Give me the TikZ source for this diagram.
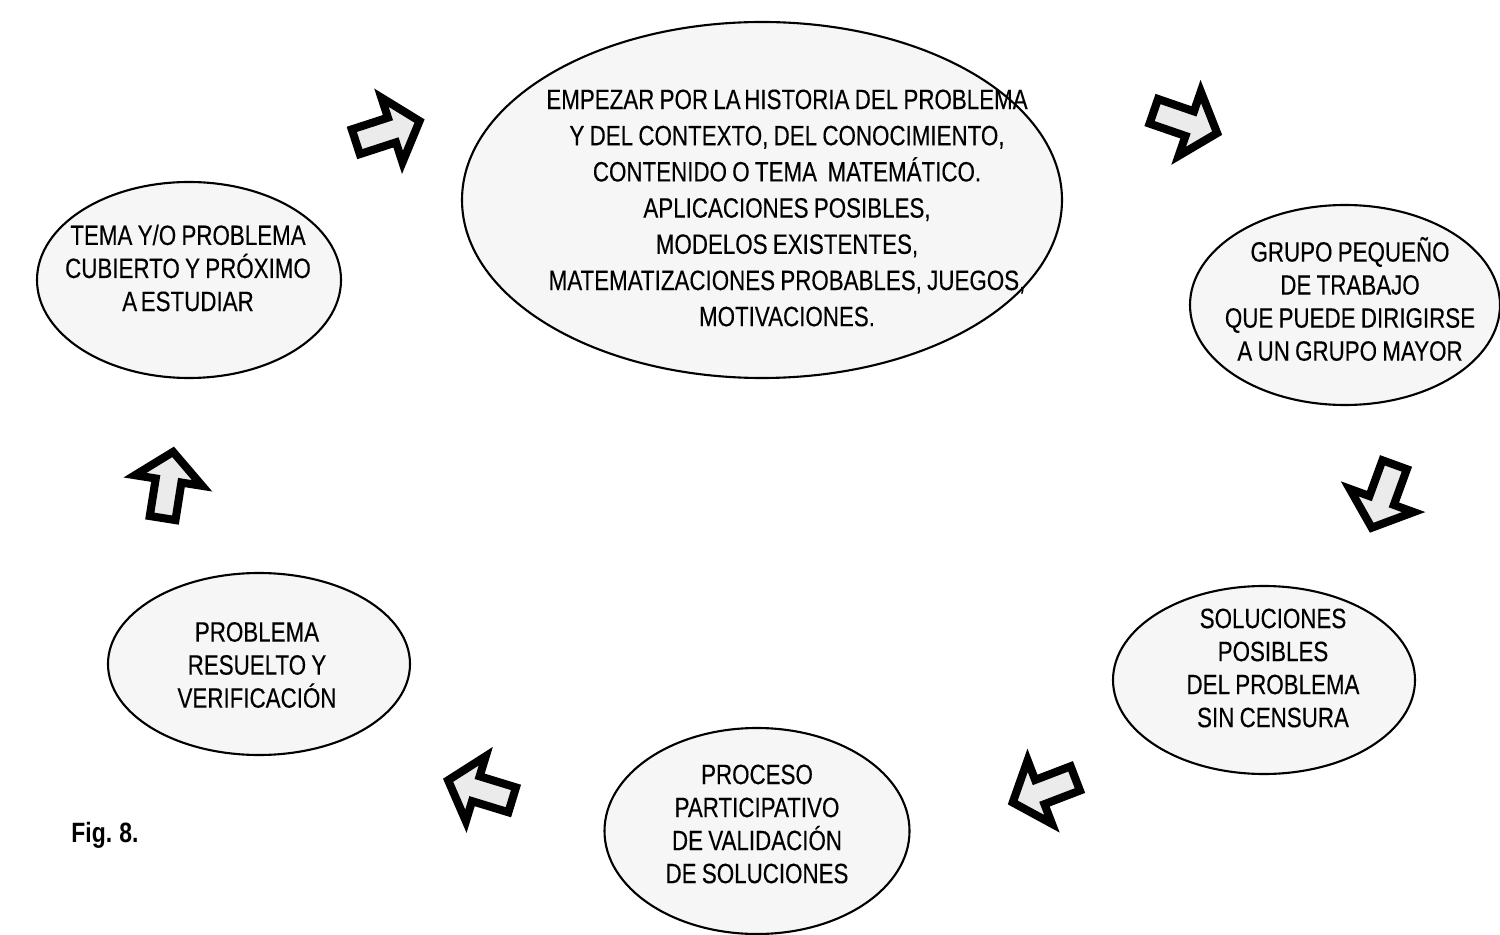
\documentclass[tikz,border=0pt]{standalone}
\usepackage{fontspec}
\setmainfont{Liberation Sans}[FakeStretch=0.80, WordSpace=0.85, FakeBold=0.25]
\newfontfamily\captionfont{Liberation Sans}[FakeStretch=0.82, WordSpace=0.8]
\usetikzlibrary{shapes.geometric}
\begin{document}
\begin{tikzpicture}[x=0.02cm, y=-0.02cm,
  bubble/.style={draw, line width=1.2pt, fill=gray!7, ellipse, inner sep=0pt},
  bubbletext/.style={align=center, inner sep=0pt,
    font={\fontsize{15.9}{18.8}\selectfont}},
  bigtext/.style={align=center, inner sep=0pt,
    font={\fontsize{15.9}{20.6}\selectfont}},
  arrowstyle/.style={draw=black, line width=4.6pt, fill=gray!16, line join=miter},
  blockarrow/.pic={
    \path[arrowstyle] (4,-13) -- (42,-13) -- (42,-34) -- (71,0)
      -- (42,34) -- (42,13) -- (4,13) -- cycle;
  }]
\useasboundingbox (0,0) rectangle (1500,935);

% ellipses of the cycle
\node[bubble, minimum width=600*0.02cm, minimum height=356*0.02cm] (top) at (762,200) {};
\node[bigtext] (toptext) at (787,208) {EMPEZAR POR LA\hspace{-0.06em} HISTORIA DEL PROBLEMA\\
  Y DEL CONTEXTO, DEL CONOCIMIENTO,\\
  CONTENIDO O TEMA \ MATEMÁTICO.\\
  APLICACIONES POSIBLES,\\
  MODELOS EXISTENTES,\\
  MATEMATIZACIONES PROBABLES, JUEGOS,\\
  MOTIVACIONES.};

\node[bubble, minimum width=310*0.02cm, minimum height=200*0.02cm] (grupo) at (1345,305) {};
\node[bubbletext] (grupotext) at (1350,299) {GRUPO PEQUEÑO\\DE TRABAJO\\QUE PUEDE DIRIGIRSE\\A UN GRUPO MAYOR};

\node[bubble, minimum width=302*0.02cm, minimum height=188*0.02cm] (sol) at (1264,680) {};
\node[bubbletext] (soltext) at (1273,668) {SOLUCIONES\\POSIBLES\\DEL PROBLEMA\\SIN CENSURA};

\node[bubble, minimum width=305*0.02cm, minimum height=206*0.02cm] (proc) at (757,831) {};
\node[bubbletext] (proctext) at (757,824) {PROCESO\\PARTICIPATIVO\\DE VALIDACIÓN\\DE SOLUCIONES};

\node[bubble, minimum width=302*0.02cm, minimum height=182*0.02cm] (res) at (259,664) {};
\node[bubbletext] (restext) at (257,665) {PROBLEMA\\RESUELTO Y\\VERIFICACIÓN};

\node[bubble, minimum width=304*0.02cm, minimum height=196*0.02cm] (tema) at (189,280) {};
\node[bubbletext] (tematext) at (188,268) {TEMA Y/O PROBLEMA\\CUBIERTO Y PRÓXIMO\\A\hspace{-0.06em} ESTUDIAR};

% block arrows between the ellipses
\pic[rotate=18]   at (352,143)  {blockarrow};
\pic[rotate=-19]  at (1150,110) {blockarrow};
\pic[rotate=-110] at (1396,461) {blockarrow};
\pic[rotate=-159] at (1079,777) {blockarrow};
\pic[rotate=163]  at (516,801)  {blockarrow};
\pic[rotate=81]   at (162,522)  {blockarrow};

% caption
\node[font={\captionfont\fontsize{15.9}{18.8}\selectfont\bfseries}, inner sep=0pt] (fig) at (105,835) {Fig. 8.};
\end{tikzpicture}
\end{document}
